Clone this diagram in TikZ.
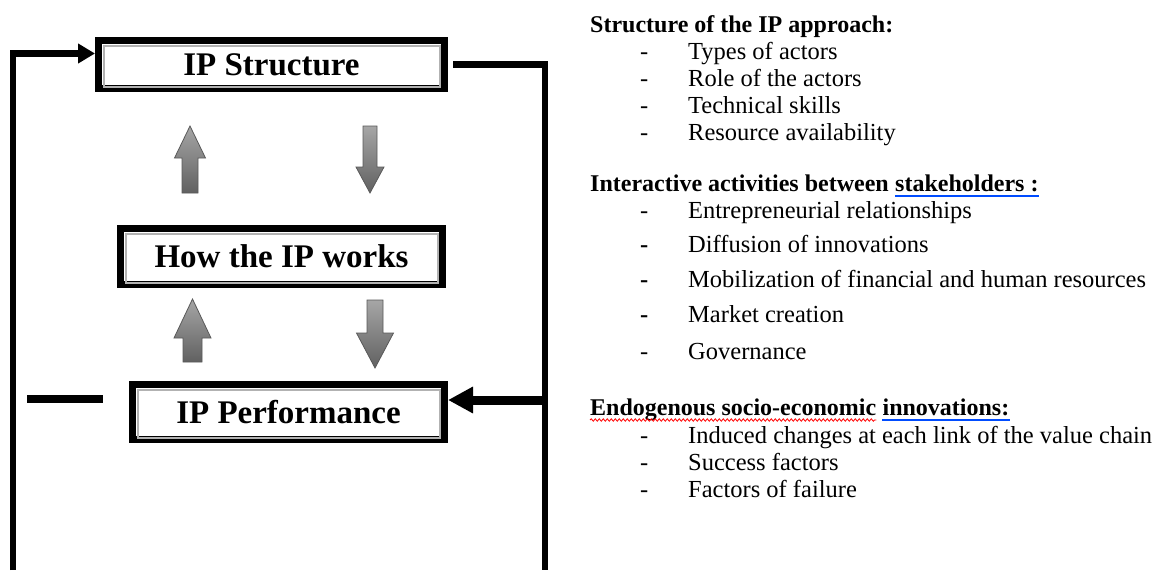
\documentclass[tikz,border=0pt]{standalone}
\usepackage{fontspec}
\setmainfont{Liberation Serif}
\usetikzlibrary{arrows.meta,positioning,decorations.pathmorphing}

\begin{document}
\begin{tikzpicture}[x=1pt,y=-1pt] % 1pt = 1px of the figure
\tikzstyle{ipbox}=[draw=black, line width=7pt, fill=white, inner sep=0pt, font=\fontsize{33}{38}\selectfont\bfseries]
\tikzstyle{loopline}=[line width=6.5pt]
\tikzstyle{bigtip}=[-{Triangle[length=17pt,width=19pt]}]
\tikzstyle{blockarrow}=[draw=black!65, line width=0.8pt, top color=black!35, bottom color=black!62]
\tikzstyle{head}=[anchor=base west, inner sep=0pt, font=\fontsize{24}{28}\selectfont\bfseries]
\tikzstyle{item}=[anchor=base west, inner sep=0pt, font=\fontsize{24.5}{28}\selectfont]

 \useasboundingbox (0,0) rectangle (1161,570);

 % the three boxes
 \node[ipbox, minimum width=346, minimum height=48] (s1) at (271.5,64.5) {IP Structure};
 \node[ipbox, minimum width=322, minimum height=56] (s2) at (281.5,256.5) {How the IP works};
 \node[ipbox, minimum width=312, minimum height=55] (s3) at (288.5,412) {IP Performance};
 \foreach \b in {s1,s2,s3}
   \draw[gray!60, line width=1.2pt] ([shift={(9,9)}]\b.north west) rectangle ([shift={(-8,-5)}]\b.south east);

 % grey block arrows
 \foreach \x/\yt/\yb/\yp/\s/\h in {190/193/158/126/8/15.5, 370/126/167/193/7/14,
                                  192.5/362/338/299/9.5/18.5, 375/300/333/368/8/18.5}
   \path[blockarrow] (\x-\s,\yt) -- (\x-\s,\yb) -- (\x-\h,\yb) -- (\x,\yp)
                     -- (\x+\h,\yb) -- (\x+\s,\yb) -- (\x+\s,\yt) -- cycle;

 % feedback loops
 \coordinate (botL) at (13,570);
 \coordinate (botR) at (545,570);
 \coordinate (stubL) at (27,399);
 \coordinate (stubR) at (103,399);
 \coordinate (p3in) at ([shift={(0,-12)}]s3.east);
 \draw[loopline, bigtip] (botL) |- ([shift={(0,-11)}]s1.west);
 \draw[loopline] ([xshift=5pt]s1.east) -| (botR);
 \draw[loopline, line width=9pt, -{Triangle[length=25pt,width=25pt]}] (p3in -| botR) -- (p3in);
 \draw[loopline, line width=8pt] (stubL) -- (stubR);

 % lists on the right
 \node[head] (h1) at (590,32) {Structure of the IP approach:};
 \foreach \y/\txt [count=\i] in {59/Types of actors, 86/Role of the actors,
                                 113/Technical skills, 140/Resource availability} {
   \node[item] (d1\i) at (640,\y) {-};
   \node[item] (t1\i) at (688,\y) {\txt};
 }

 \node[head] (h2) at (590,191) {Interactive activities between};
 \node[head] (h2u) at ([xshift=6pt]h2.base east) {stakeholders :};
 \draw[blue!70!cyan, line width=1.5pt] ([shift={(0,5)}]h2u.base west) -- ([shift={(0,5)}]h2u.base east);
 \foreach \y/\dash/\txt [count=\i] in {218/-/Entrepreneurial relationships, 252/\textbf{-}/Diffusion of innovations,
                                       287/\textbf{-}/Mobilization of financial and human resources,
                                       322/\textbf{-}/Market creation, 359/-/Governance} {
   \node[item] (d2\i) at (640,\y) {\dash};
   \node[item] (t2\i) at (688,\y) {\txt};
 }

 \node[head] (h3) at (590,415) {Endogenous socio-economic};
 \node[head] (h3u) at ([xshift=6pt]h3.base east) {innovations:};
 \draw[red, line width=0.8pt, decorate, decoration={snake, amplitude=1.2pt, segment length=4pt}]
   ([shift={(0,5)}]h3.base west) -- ([shift={(0,5)}]h3.base east);
 \draw[blue!70!cyan, line width=1.5pt] ([shift={(0,5)}]h3u.base west) -- ([shift={(0,5)}]h3u.base east);
 \foreach \y/\txt [count=\i] in {443/Induced changes at each link of the value chain,
                                 470/Success factors, 497/Factors of failure} {
   \node[item] (d3\i) at (640,\y) {-};
   \node[item] (t3\i) at (688,\y) {\txt};
 }
\end{tikzpicture}
\end{document}
